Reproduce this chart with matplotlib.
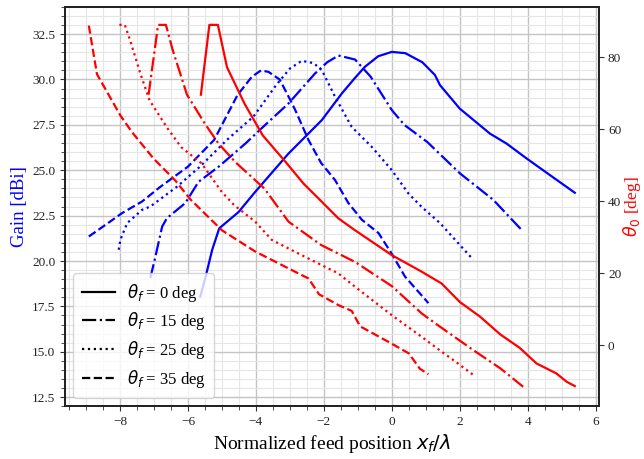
import matplotlib
matplotlib.use("Agg")
import matplotlib.pyplot as plt
from matplotlib.lines import Line2D
from matplotlib.ticker import AutoMinorLocator

plt.rcParams['font.family'] = ['Liberation Serif', 'DejaVu Serif']
plt.rcParams['mathtext.fontset'] = 'dejavusans'

# Gain curves (blue, left axis) for each feed tilt
x_g0 = [-5.64, -5.49, -5.29, -5.08, -4.51, -4.02, -3.04, -2.06, -1.47, -1.1, -0.79, -0.4, 0.0,
        0.4, 0.9, 1.27, 1.42, 2.0, 2.89, 3.38, 3.97, 4.66, 5.39]
gain_0 = [18.04, 19.06, 20.6, 21.8, 22.7, 23.81, 25.92, 27.76, 29.23, 30.05, 30.7, 31.28, 31.52,
          31.45, 30.95, 30.25, 29.69, 28.4, 27.02, 26.47, 25.65, 24.73, 23.76]

x_g15 = [-7.11, -6.98, -6.76, -6.62, -6.08, -5.69, -5.1, -4.31, -3.73, -3.04, -2.26, -1.9,
         -1.57, -1.08, -0.62, 0.0, 0.37, 1.05, 2.0, 2.99, 3.82]
gain_15 = [19.06, 20.07, 21.9, 22.36, 23.19, 24.36, 25.19, 26.47, 27.49, 28.68, 30.33, 30.95,
           31.32, 31.1, 30.15, 28.32, 27.5, 26.55, 24.84, 23.37, 21.72]

x_g25 = [-8.04, -7.99, -7.79, -7.35, -7.11, -6.32, -5.64, -4.85, -4.07, -3.4, -3.0, -2.65,
         -2.3, -2.06, -1.67, -1.18, -0.59, 0.0, 0.49, 0.88, 1.42, 2.4]
gain_25 = [20.62, 21.17, 22.09, 22.82, 23.0, 24.1, 25.21, 26.68, 27.96, 29.7, 30.6, 31.03,
           30.9, 30.52, 29.05, 27.39, 26.29, 25.01, 23.72, 22.98, 22.09, 20.07]

x_g35 = [-8.92, -8.43, -7.94, -7.35, -6.84, -6.0, -5.23, -4.54, -4.12, -3.85, -3.63, -3.3,
         -2.99, -2.84, -2.45, -2.08, -1.67, -1.28, -0.88, -0.39, 0.0, 0.39, 1.08]
gain_35 = [21.35, 21.99, 22.64, 23.28, 24.05, 25.2, 26.67, 29.15, 30.15, 30.5, 30.42, 30.0,
           28.88, 28.31, 26.66, 25.4, 24.46, 23.2, 22.27, 21.54, 20.4, 19.14, 17.68]

# Beam direction curves (red, right axis)
x_t0 = [-5.62, -5.37, -5.12, -4.85, -4.33, -3.8, -3.09, -2.6, -2.11, -1.57, -1.08, 0.0, 0.88,
        1.47, 2.0, 2.6, 3.19, 3.77, 4.26, 4.85, 5.15, 5.39]
theta_0 = [69.6, 89, 89, 77.2, 67, 58.3, 50.5, 44.9, 40.3, 35.2, 31.9, 25, 20.4,
           17.1, 12.0, 7.9, 3.0, -0.8, -5.1, -7.9, -10.2, -11.4]

x_t15 = [-7.16, -6.88, -6.65, -6.45, -6.03, -5.5, -5.1, -4.6, -3.75, -3.04, -2.08, -1.08, 0.0,
         0.88, 1.42, 2.4, 3.2, 3.87]
theta_15 = [69.6, 89, 89, 82, 69.6, 61.5, 56, 50.8, 43.5, 34.3, 27.8, 23.1, 16.4,
            8.8, 5.1, -1.4, -6.5, -11.6]

x_t25 = [-8.02, -7.86, -7.7, -7.4, -7.13, -6.6, -6.2, -5.6, -5.0, -4.63, -4.02, -3.53, -2.55,
         -1.57, -1.08, 0.0, 0.88, 1.42, 1.86, 2.4]
theta_25 = [89, 89, 84.6, 75.4, 68, 60.2, 55, 50.5, 42.5, 38.8, 34.3, 29.2, 24.5,
            19.9, 16.2, 8.3, 2.3, -1.5, -4.5, -8.3]

x_t35 = [-8.92, -8.68, -7.99, -7.65, -7.01, -6.37, -5.93, -5.0, -4.02, -3.04, -2.45, -2.14,
         -1.57, -1.18, -0.93, -0.1, 0.5, 0.83, 1.08]
theta_35 = [88.8, 75.3, 63.8, 59.2, 51.8, 45.7, 40.5, 31.9, 26.0, 21.3, 18.5, 14.1,
            11.1, 9.5, 5.2, 0.9, -2.3, -6.6, -8.1]

tilt_labels = ['0', '15', '25', '35']
styles = ['-', '-.', ':', '--']

gain_sets = [(x_g0, gain_0), (x_g15, gain_15), (x_g25, gain_25), (x_g35, gain_35)]
theta_sets = [(x_t0, theta_0), (x_t15, theta_15), (x_t25, theta_25), (x_t35, theta_35)]

fig = plt.figure(figsize=(6.44, 4.59), dpi=100)
ax = fig.add_axes([0.101, 0.115, 0.829, 0.870])
ax2 = ax.twinx()

# Plot gain and beam angle for every feed tilt
for (xg, g), (xt, t), ls in zip(gain_sets, theta_sets, styles):
    ax.plot(xg, g, color='blue', linestyle=ls, linewidth=1.6)
    ax2.plot(xt, t, color='red', linestyle=ls, linewidth=1.6)

ax.set_xlim(-9.62, 6.1)
ax.set_ylim(12.0, 34.0)
ax2.set_ylim(-17, 94)
ax2.set_yticks([0, 20, 40, 60, 80])

ax.xaxis.set_minor_locator(AutoMinorLocator(4))
ax.yaxis.set_minor_locator(AutoMinorLocator(5))
ax.grid(which='major', color='#c4c4c4', linewidth=1.0)
ax.grid(which='minor', color='#e6e6e6', linewidth=0.8)
ax.set_axisbelow(True)

for a in (ax, ax2):
    a.tick_params(labelsize=9.5, direction='out', colors='#333333', labelcolor='#222222')
    for s in a.spines.values():
        s.set_linewidth(1.3)
        s.set_color('#222222')
ax.tick_params(which='minor', direction='out', length=3, colors='#333333')
ax2.tick_params(pad=3)

ax.set_xlabel('Normalized feed position $x_f/\\lambda$', fontsize=14, labelpad=3)
ax.set_ylabel('Gain [dBi]', fontsize=13.5, color='blue', labelpad=3)
ax2.set_ylabel('$\\theta_0$ [deg]', fontsize=12.5, color='red', labelpad=0)

handles = [Line2D([], [], color='black', linestyle=ls, linewidth=1.6) for ls in styles]
labels = ['$\\theta_f$ = %s deg' % t for t in tilt_labels]
ax2.legend(handles, labels, loc='lower left', fontsize=12, handlelength=2.0,
           borderpad=0.5, labelspacing=0.4, handletextpad=0.7)

plt.savefig('out.png', dpi=100)
